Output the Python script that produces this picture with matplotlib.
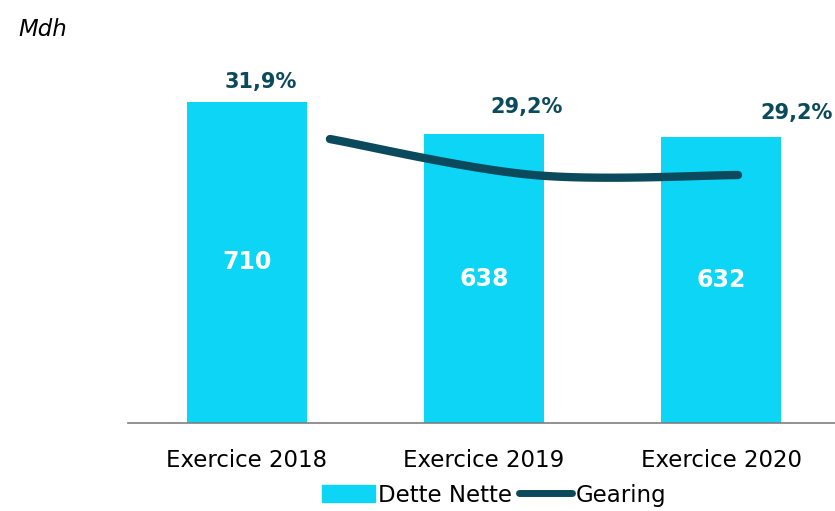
import numpy as np
import matplotlib.pyplot as plt
from matplotlib.patches import Patch
from matplotlib.lines import Line2D

categories = ["Exercice 2018", "Exercice 2019", "Exercice 2020"]
dette_nette = [710, 638, 632]
gearing = [31.9, 29.2, 29.2]
gearing_labels = ["31,9%", "29,2%", "29,2%"]

bar_color = "#0cd5f5"
dark = "#0b4a5c"


def smooth(x, y, n=60):
    # excel-like smoothed line (catmull-rom through the points)
    x = np.asarray(x, float)
    y = np.asarray(y, float)
    px = np.concatenate([[x[0]], x, [x[-1]]])
    py = np.concatenate([[y[0]], y, [y[-1]]])
    xs, ys = [], []
    for i in range(1, len(px) - 2):
        p0 = np.array([px[i - 1], py[i - 1]])
        p1 = np.array([px[i], py[i]])
        p2 = np.array([px[i + 1], py[i + 1]])
        p3 = np.array([px[i + 2], py[i + 2]])
        c1 = p1 + (p2 - p0) / 6
        c2 = p2 - (p3 - p1) / 6
        t = np.linspace(0, 1, n)[:, None]
        b = ((1 - t) ** 3) * p1 + 3 * ((1 - t) ** 2) * t * c1 + 3 * (1 - t) * t ** 2 * c2 + t ** 3 * p2
        xs.append(b[:, 0])
        ys.append(b[:, 1])
    return np.concatenate(xs), np.concatenate(ys)


if __name__ == "__main__":
    fig = plt.figure(figsize=(8.35, 5.11), dpi=100)
    rect = [128 / 835, 88 / 511, 712 / 835, 383 / 511]
    ax = fig.add_axes(rect)

    x = np.arange(len(categories))
    bars = ax.bar(x, dette_nette, width=0.505, color=bar_color, zorder=2)
    ax.set_xlim(-0.5, 2.5)
    ax.set_ylim(0, 846)
    for b, v in zip(bars, dette_nette):
        ax.text(b.get_x() + b.get_width() / 2, v / 2, str(v), ha="center", va="center",
                color="white", fontsize=17, fontweight="bold")

    ax.set_xticks(x)
    ax.set_xticklabels(categories, fontsize=16.5)
    ax.tick_params(axis="x", length=0, pad=19)
    ax.set_yticks([])
    for s in ["top", "right", "left"]:
        ax.spines[s].set_visible(False)
    ax.spines["bottom"].set_color("#7f7f7f")
    ax.spines["bottom"].set_linewidth(1.2)

    # gearing labels above bars (offsets in px)
    offsets = [(14, 10), (43, 17), (75, 14)]
    for b, v, lab, (dx, dy) in zip(bars, dette_nette, gearing_labels, offsets):
        ax.annotate(lab, (b.get_x() + b.get_width() / 2, v), xytext=(dx * 0.72, dy * 0.72),
                    textcoords="offset points", ha="center", va="bottom",
                    color=dark, fontsize=15, fontweight="bold")

    # gearing line on its own axes
    ax2 = fig.add_axes(rect, facecolor="none")
    ax2.set_xlim(-0.99, 2.5)
    ax2.set_ylim(10.6, 39.33)
    ax2.axis("off")
    sx, sy = smooth(np.arange(len(gearing)), gearing)
    ax2.plot(sx, sy, color=dark, lw=6, solid_capstyle="round")

    fig.text(18 / 835, 1 - 30 / 511, "Mdh", fontsize=16.5, style="italic", va="center")

    handles = [Patch(color=bar_color), Line2D([0], [0], color=dark, lw=5, solid_capstyle="round")]
    fig.legend(handles, ["Dette Nette", "Gearing"], loc="center", bbox_to_anchor=(494 / 835, 1 - 495 / 511),
               ncol=2, frameon=False, fontsize=16.5, handlelength=2.3, handletextpad=0.15,
               columnspacing=0.3, handleheight=0.75)

    fig.savefig("out.png", dpi=100)
